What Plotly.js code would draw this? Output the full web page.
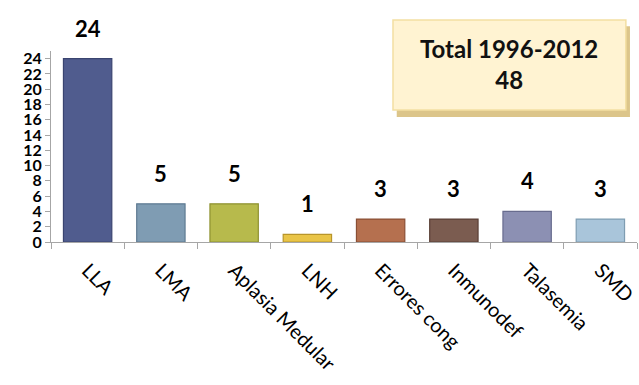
<!DOCTYPE html>
<html>
<head>
<meta charset="utf-8">
<script src="https://cdn.plot.ly/plotly-3.0.1.min.js"></script>
<style>html,body{margin:0;padding:0;background:#fff;}#chart{width:639px;height:385px;}</style>
</head>
<body>
<div id="chart"></div>
<script>
const categories = ["LLA", "LMA", "Aplasia Medular", "LNH", "Errores cong", "Inmunodef", "Talasemia", "SMD"];
const values = [24, 5, 5, 1, 3, 3, 4, 3];
const barColors = ["#505C8E", "#7F9CB3", "#B7BA4C", "#E9C447", "#B5704F", "#7B5C50", "#8C90B3", "#A9C5DA"];
const barEdges = ["#3A4470", "#5F7B92", "#8E9130", "#B8952A", "#8A4F35", "#5A3F36", "#686C8E", "#7F9DB2"];
const yTicks = [0, 2, 4, 6, 8, 10, 12, 14, 16, 18, 20, 22, 24];
const boxText = "Total 1996-2012<br>48";

const FONT = "Lato, 'Open Sans', sans-serif";

const trace = {
  type: "bar",
  x: categories,
  y: values,
  marker: { color: barColors, line: { color: barEdges, width: 1.2 } },
  hoverinfo: "skip"
};

const annotations = categories.map((c, i) => ({
  x: c, y: values[i], xref: "x", yref: "y",
  text: String(values[i]), showarrow: false,
  yanchor: "bottom", yshift: 15,
  font: { family: FONT, size: 22, color: "#000", weight: "bold" }
}));

annotations.push({
  xref: "paper", yref: "paper", x: 0.782, y: 0.93,
  text: boxText, showarrow: false,
  xanchor: "center", yanchor: "middle",
  font: { family: FONT, size: 24, color: "#111", weight: "bold" }
});

const layout = {
  width: 639, height: 385,
  margin: { l: 51, r: 2, t: 51, b: 143 },
  paper_bgcolor: "#fff", plot_bgcolor: "#fff",
  showlegend: false,
  bargap: 0.34,
  font: { family: FONT },
  xaxis: {
    type: "category",
    tickangle: 45,
    tickson: "boundaries",
    ticks: "outside", ticklen: 6, tickcolor: "#A6A6A6", tickwidth: 1,
    ticklabelstandoff: 8,
    showline: true, linecolor: "#A6A6A6", linewidth: 1,
    showgrid: false, zeroline: false,
    tickfont: { family: FONT, size: 20, color: "#000" }
  },
  yaxis: {
    range: [0, 25],
    tickvals: yTicks, ticktext: yTicks.map(String),
    ticks: "outside", ticklen: 5, tickcolor: "#A6A6A6", tickwidth: 1,
    showline: true, linecolor: "#A6A6A6", linewidth: 1,
    showgrid: false, zeroline: false,
    tickfont: { family: FONT, size: 16, color: "#000", weight: "bold" }
  },
  shapes: [
    { type: "rect", xref: "paper", yref: "paper", x0: 0.590, x1: 0.988, y0: 0.655, y1: 1.13,
      fillcolor: "#DCC58A", line: { width: 0 }, layer: "above" },
    { type: "rect", xref: "paper", yref: "paper", x0: 0.5836, x1: 0.981, y0: 0.691, y1: 1.162,
      fillcolor: "#FFF3D2", line: { color: "#F3DFA2", width: 1.5 }, layer: "above" }
  ],
  annotations: annotations
};

Plotly.newPlot("chart", [trace], layout, { displayModeBar: false, staticPlot: true });
</script>
</body>
</html>
